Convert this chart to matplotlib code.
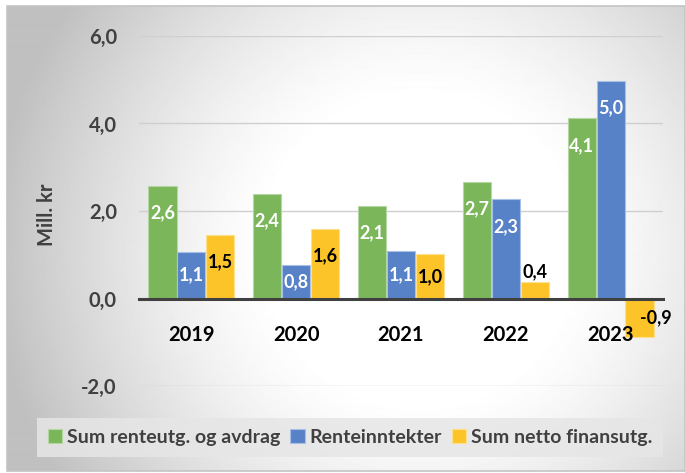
import numpy as np
import matplotlib
matplotlib.use("Agg")
import matplotlib.pyplot as plt
from matplotlib.patches import Rectangle

# ------------------------------------------------------
# DATA
# ------------------------------------------------------
YEARS = ["2019", "2020", "2021", "2022", "2023"]
SUM_RENTEUTG = [2.57, 2.39, 2.12, 2.67, 4.12]
RENTEINNTEKTER = [1.07, 0.77, 1.08, 2.27, 4.98]
NETTO_FINANSUTG = [1.46, 1.59, 1.01, 0.37, -0.88]

SERIES_NAMES = ["Sum renteutg. og avdrag", "Renteinntekter", "Sum netto finansutg."]
COLORS = ["#7cb65b", "#5882c8", "#fdc42a"]
EDGES = ["#b5d7a3", "#a8bfe6", "#fde08c"]
LABEL_COLORS = ["white", "white", "black"]

Y_TICKS = [-2.0, 0.0, 2.0, 4.0, 6.0]

FONT = "Lato"
W, H = 685, 473


def fmt(v):
    return f"{v:.1f}".replace(".", ",")


def main():
    fig = plt.figure(figsize=(W / 100, H / 100), dpi=100)

    # bakgrunn: radial gradient
    x0, y0, x1, y1 = 7, 6, 685, 471
    bg = fig.add_axes([x0 / W, 1 - y1 / H, (x1 - x0) / W, (y1 - y0) / H], zorder=0)
    xx, yy = np.meshgrid(np.arange(x0, x1), np.arange(y0, y1))
    d = np.sqrt((xx - 420) ** 2 + (yy - 250) ** 2)
    val = 1 - 0.25 * np.clip((d - 150) / 280, 0, 1) ** 1.3
    bg.imshow(val, cmap="gray", vmin=0, vmax=1, aspect="auto", interpolation="bilinear")
    bg.axis("off")
    fig.add_artist(Rectangle((x0 / W, 1 - y1 / H), (x1 - x0) / W, (y1 - y0) / H,
                             transform=fig.transFigure, fill=False,
                             edgecolor="#c4c4c4", linewidth=1.2, zorder=1))

    ax = fig.add_axes([139 / W, 1 - 386 / H, 524 / W, 350 / H], zorder=2)
    ax.patch.set_alpha(0)

    x = np.arange(len(YEARS))
    width = 0.268
    offsets = [-0.276, 0.0, 0.276]
    data = [SUM_RENTEUTG, RENTEINNTEKTER, NETTO_FINANSUTG]

    for k, vals in enumerate(data):
        bars = ax.bar(x + offsets[k], vals, width, color=COLORS[k],
                      edgecolor=EDGES[k], linewidth=0.8, label=SERIES_NAMES[k], zorder=3)
        for b, v in zip(bars, vals):
            cx = b.get_x() + b.get_width() / 2
            if v < 0:
                ax.text(cx, v / 2, fmt(v), ha="left", va="center",
                        color=LABEL_COLORS[k], fontsize=13, fontweight="bold",
                        family=FONT, zorder=5)
            elif v < 0.5:
                ax.text(cx, v + 0.05, fmt(v), ha="center", va="bottom",
                        color=LABEL_COLORS[k], fontsize=13, fontweight="bold",
                        family=FONT, zorder=5)
            else:
                yl = v - min(0.62, v / 2)
                ax.text(cx, yl, fmt(v), ha="center", va="center",
                        color=LABEL_COLORS[k], fontsize=13, fontweight="bold",
                        family=FONT, zorder=5)

    for s in ["top", "right", "left"]:
        ax.spines[s].set_visible(False)
    ax.spines["bottom"].set_position(("data", 0))
    ax.spines["bottom"].set_color("#404040")
    ax.spines["bottom"].set_linewidth(2.2)
    ax.spines["bottom"].set_zorder(4)

    ax.set_xlim(-0.5, len(YEARS) - 0.5)
    ax.set_ylim(-2, 6)
    ax.set_yticks(Y_TICKS)
    ax.set_yticklabels([fmt(t) for t in Y_TICKS], family=FONT, fontsize=14.5,
                       fontweight="bold", color="#404040")
    ax.set_xticks(x)
    ax.set_xticklabels(YEARS, family=FONT, fontsize=14.5, fontweight="bold", color="black")
    ax.tick_params(axis="both", length=0)
    ax.tick_params(axis="y", pad=16)
    ax.tick_params(axis="x", pad=19)

    ax.grid(axis="y", color="#cfcfcf", linewidth=1.0, zorder=1)
    ax.set_axisbelow(True)
    # årstall over søylene (som i originalen)
    ax.xaxis.set_zorder(4.5)

    ax.set_ylabel("Mill. kr", family=FONT, fontsize=14.5, fontweight="bold", color="#404040")
    ax.yaxis.set_label_coords((57 - 139) / 524, 0.49)

    leg = fig.legend(loc="center", bbox_to_anchor=(350 / W, 1 - 437.5 / H), ncol=3,
                     prop={"family": FONT, "size": 14, "weight": "bold"},
                     handlelength=0.75, handleheight=0.75, handletextpad=0.25,
                     columnspacing=0.5, borderpad=0.55, fancybox=False,
                     facecolor="#e6e6e6", edgecolor="none", framealpha=0.85)
    for t in leg.get_texts():
        t.set_color("#404040")
    leg.set_zorder(3)

    fig.savefig("out.png", dpi=100)
    plt.close(fig)


if __name__ == "__main__":
    main()
